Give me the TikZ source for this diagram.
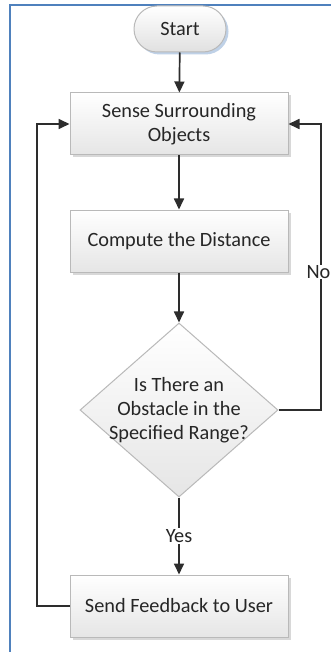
\documentclass[tikz,border=0pt]{standalone}
\usepackage{fontspec}
\setmainfont{Carlito}
\usetikzlibrary{arrows.meta,shapes.geometric,shadows}
\definecolor{frameblue}{RGB}{79,129,189}
\definecolor{boxline}{RGB}{185,185,185}
\definecolor{linecol}{RGB}{45,45,45}
\begin{document}
\begin{tikzpicture}[x=1pt,y=-1pt,
  every node/.style={font=\fontsize{20.3}{24}\selectfont, text=black!85},
  procbox/.style={draw=boxline, line width=1pt, top color=white, bottom color=black!10,
    minimum width=218pt, minimum height=62pt, align=center, inner sep=0pt,
    drop shadow={shadow xshift=2.5pt, shadow yshift=-2.5pt, fill=black!25, opacity=0.6}},
  termbox/.style={draw=boxline, line width=1pt, top color=white, bottom color=black!12,
    rounded corners=23pt, minimum width=92pt, minimum height=46pt, inner sep=0pt,
    drop shadow={shadow xshift=2.5pt, shadow yshift=-2.5pt, fill=frameblue!60, opacity=0.6}},
  decbox/.style={draw=boxline, line width=1pt, diamond, top color=white, bottom color=black!10,
    minimum width=198pt, minimum height=174pt, inner sep=-30pt, align=center, aspect=1.138},
  conn/.style={draw=linecol, line width=1.7pt, -{Triangle[length=11pt,width=10pt]}},
  lbl/.style={fill=white, inner sep=1pt}
]
\useasboundingbox (0,0) rectangle (330,652);
\fill[white] (0,0) rectangle (330,652);
\draw[frameblue, line width=2pt] (10,652) -- (10,5) -- (331,5);

\node[termbox] (start) at (180,29) {Start};
\node[procbox] (sense) at (179,124) {Sense Surrounding\\Objects};
\node[procbox] (comp) at (179,241) {Compute the Distance};
\node[decbox] (dec) at (179,410) {Is There an\\Obstacle in the\\Specified Range?};
\node[procbox] (send) at (179,606) {Send Feedback to User};

\coordinate (ltop) at (37,124);
\coordinate (lbot) at (37,606);
\coordinate (rtop) at (321,124);
\coordinate (rbot) at (321,410);

\draw[conn] (start) -- (sense);
\draw[conn] (sense) -- (comp);
\draw[conn] (comp) -- (dec);
\draw[conn] (dec.south) -- (send.north) node[pos=0.5, lbl] (yes) {Yes};
\draw[conn] (send.west) -- (lbot) -- (ltop) -- (sense.west);
\draw[conn] (dec.east) -- (rbot) -- (rtop) -- (sense.east);
\node[lbl, inner sep=0.5pt] (no) at (318.5,272) {No};
\end{tikzpicture}
\end{document}
